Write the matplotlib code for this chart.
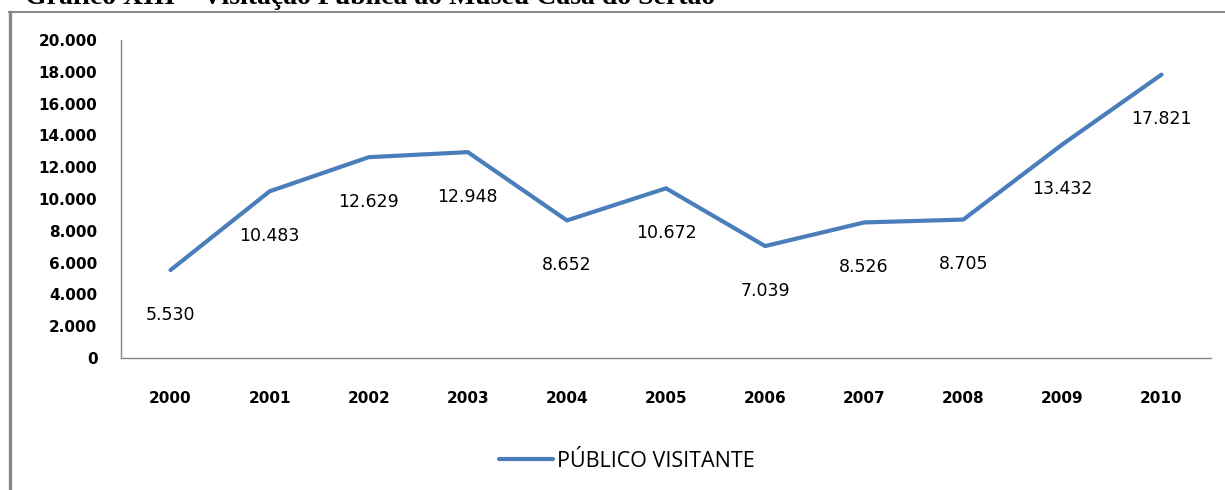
import matplotlib
matplotlib.use("Agg")
import matplotlib.pyplot as plt
from matplotlib.lines import Line2D

# ----------DATA----------
anos = ['2000', '2001', '2002', '2003', '2004', '2005', '2006', '2007', '2008', '2009', '2010']
publico = [5530, 10483, 12629, 12948, 8652, 10672, 7039, 8526, 8705, 13432, 17821]
yticks = [0, 2000, 4000, 6000, 8000, 10000, 12000, 14000, 16000, 18000, 20000]
titulo = 'Gráfico XIII – Visitação Pública ao Museu Casa do Sertão'
serie = 'PÚBLICO VISITANTE'

def fmt(v):
    # brazilian thousands separator
    return f'{v:,}'.replace(',', '.')

W, H = 1225, 490
fig = plt.figure(figsize=(W / 100, H / 100), dpi=100)
ax = fig.add_axes([121 / W, 1 - 358 / H, (1211 - 121) / W, (358 - 40) / H])

blue = '#4A7EBB'
grey = '#868686'

x = list(range(len(anos)))
line, = ax.plot(x, publico, color=blue, lw=3.0, solid_capstyle='round', solid_joinstyle='round')

for xi, v in zip(x, publico):
    ax.annotate(fmt(v), (xi, v), xytext=(0, -32), textcoords='offset points',
                ha='center', va='center', fontsize=12.5, family='DejaVu Sans', color='black')

ax.set_xlim(-0.5, len(anos) - 0.5)
ax.set_ylim(0, 20000)
ax.set_xticks(x)
ax.set_xticklabels(anos, fontsize=11, fontweight='bold')
ax.set_yticks(yticks)
ax.set_yticklabels([fmt(t) for t in yticks], fontsize=11, fontweight='bold')
ax.tick_params(axis='both', length=0)
ax.tick_params(axis='y', pad=17)
ax.tick_params(axis='x', pad=24)

for s in ['top', 'right']:
    ax.spines[s].set_visible(False)
for s in ['left', 'bottom']:
    ax.spines[s].set_color(grey)
    ax.spines[s].set_linewidth(1.0)

# legend below the plot
leg = fig.legend([line], [serie], loc='center', bbox_to_anchor=(627 / W, 1 - 461 / H),
                 frameon=False, handlelength=2.5, handletextpad=0.2,
                 prop={'family': 'Open Sans', 'size': 15.5})

# outer frame (left and top edges only visible)
fig.add_artist(Line2D([9.5 / W, 9.5 / W], [0, 1 - 12 / H], color='#888888', lw=2.4))
fig.add_artist(Line2D([8.5 / W, 1], [1 - 12 / H, 1 - 12 / H], color='#888888', lw=1.4))

# title, cut off by the top edge of the picture
fig.text(25 / W, 1 - 4 / H, titulo, ha='left', va='baseline', fontsize=20,
         fontweight='bold', family='Liberation Serif')

fig.savefig('out.png', dpi=100)
